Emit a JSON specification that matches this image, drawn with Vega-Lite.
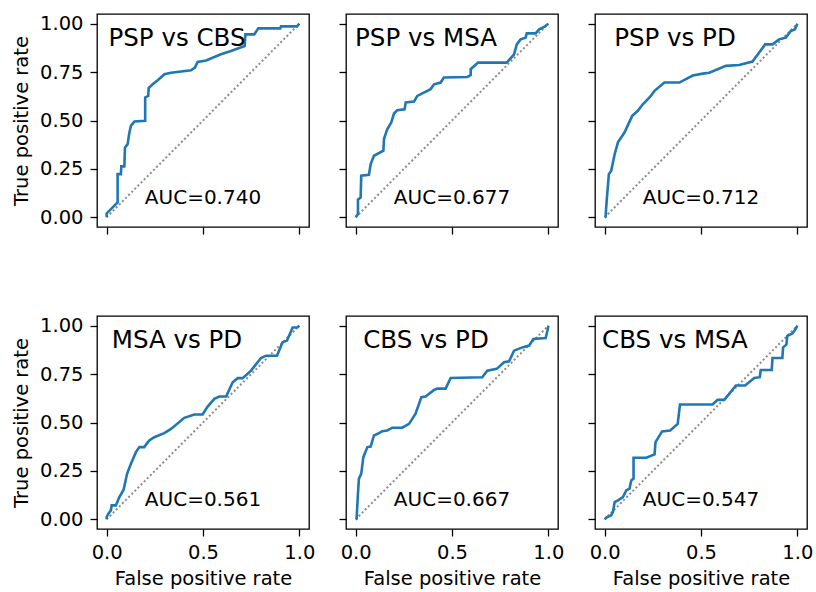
{
  "$schema": "https://vega.github.io/schema/vega-lite/v6.json",
  "background": "white",
  "padding": {"left": 10, "top": 13, "right": 4, "bottom": 4},
  "config": {
    "font": "DejaVu Sans",
    "view": {"stroke": "#000", "strokeWidth": 1.3},
    "axis": {"grid": false, "domain": false, "tickSize": 7, "tickColor": "#000", "tickWidth": 1.3, "labelFontSize": 19.5, "labelColor": "#000", "labelPadding": 7, "labelFlush": false, "labelOverlap": false, "titleFontSize": 19.5, "titleFontWeight": "normal", "titleColor": "#000", "titlePadding": 8}
  },
  "datasets": {
    "lab": [
      {"p": "PSP vs CBS", "auc": "AUC=0.740"},
      {"p": "PSP vs MSA", "auc": "AUC=0.677"},
      {"p": "PSP vs PD", "auc": "AUC=0.712"},
      {"p": "MSA vs PD", "auc": "AUC=0.561"},
      {"p": "CBS vs PD", "auc": "AUC=0.667"},
      {"p": "CBS vs MSA", "auc": "AUC=0.547"}
    ],
    "roc": [
      {"p":"PSP vs CBS","i":0,"fpr":0,"tpr":0},{"p":"PSP vs CBS","i":1,"fpr":0,"tpr":0.02},{"p":"PSP vs CBS","i":2,"fpr":0.057,"tpr":0.077},{"p":"PSP vs CBS","i":3,"fpr":0.057,"tpr":0.223},{"p":"PSP vs CBS","i":4,"fpr":0.074,"tpr":0.223},{"p":"PSP vs CBS","i":5,"fpr":0.076,"tpr":0.263},{"p":"PSP vs CBS","i":6,"fpr":0.092,"tpr":0.263},{"p":"PSP vs CBS","i":7,"fpr":0.095,"tpr":0.36},{"p":"PSP vs CBS","i":8,"fpr":0.109,"tpr":0.378},{"p":"PSP vs CBS","i":9,"fpr":0.118,"tpr":0.438},{"p":"PSP vs CBS","i":10,"fpr":0.126,"tpr":0.472},{"p":"PSP vs CBS","i":11,"fpr":0.144,"tpr":0.495},{"p":"PSP vs CBS","i":12,"fpr":0.2,"tpr":0.498},{"p":"PSP vs CBS","i":13,"fpr":0.2,"tpr":0.619},{"p":"PSP vs CBS","i":14,"fpr":0.216,"tpr":0.627},{"p":"PSP vs CBS","i":15,"fpr":0.218,"tpr":0.667},{"p":"PSP vs CBS","i":16,"fpr":0.239,"tpr":0.687},{"p":"PSP vs CBS","i":17,"fpr":0.265,"tpr":0.708},{"p":"PSP vs CBS","i":18,"fpr":0.3,"tpr":0.739},{"p":"PSP vs CBS","i":19,"fpr":0.334,"tpr":0.747},{"p":"PSP vs CBS","i":20,"fpr":0.438,"tpr":0.759},{"p":"PSP vs CBS","i":21,"fpr":0.458,"tpr":0.773},{"p":"PSP vs CBS","i":22,"fpr":0.472,"tpr":0.802},{"p":"PSP vs CBS","i":23,"fpr":0.516,"tpr":0.81},{"p":"PSP vs CBS","i":24,"fpr":0.593,"tpr":0.842},{"p":"PSP vs CBS","i":25,"fpr":0.645,"tpr":0.859},{"p":"PSP vs CBS","i":26,"fpr":0.716,"tpr":0.885},{"p":"PSP vs CBS","i":27,"fpr":0.72,"tpr":0.945},{"p":"PSP vs CBS","i":28,"fpr":0.766,"tpr":0.945},{"p":"PSP vs CBS","i":29,"fpr":0.787,"tpr":0.976},{"p":"PSP vs CBS","i":30,"fpr":0.901,"tpr":0.976},{"p":"PSP vs CBS","i":31,"fpr":0.905,"tpr":0.986},{"p":"PSP vs CBS","i":32,"fpr":0.988,"tpr":0.986},{"p":"PSP vs CBS","i":33,"fpr":1,"tpr":1},
      {"p":"PSP vs MSA","i":0,"fpr":0,"tpr":0},{"p":"PSP vs MSA","i":1,"fpr":0.012,"tpr":0.017},{"p":"PSP vs MSA","i":2,"fpr":0.012,"tpr":0.091},{"p":"PSP vs MSA","i":3,"fpr":0.026,"tpr":0.103},{"p":"PSP vs MSA","i":4,"fpr":0.029,"tpr":0.215},{"p":"PSP vs MSA","i":5,"fpr":0.069,"tpr":0.22},{"p":"PSP vs MSA","i":6,"fpr":0.078,"tpr":0.275},{"p":"PSP vs MSA","i":7,"fpr":0.095,"tpr":0.318},{"p":"PSP vs MSA","i":8,"fpr":0.144,"tpr":0.344},{"p":"PSP vs MSA","i":9,"fpr":0.147,"tpr":0.404},{"p":"PSP vs MSA","i":10,"fpr":0.164,"tpr":0.455},{"p":"PSP vs MSA","i":11,"fpr":0.185,"tpr":0.49},{"p":"PSP vs MSA","i":12,"fpr":0.199,"tpr":0.536},{"p":"PSP vs MSA","i":13,"fpr":0.216,"tpr":0.553},{"p":"PSP vs MSA","i":14,"fpr":0.254,"tpr":0.558},{"p":"PSP vs MSA","i":15,"fpr":0.26,"tpr":0.593},{"p":"PSP vs MSA","i":16,"fpr":0.303,"tpr":0.598},{"p":"PSP vs MSA","i":17,"fpr":0.32,"tpr":0.627},{"p":"PSP vs MSA","i":18,"fpr":0.389,"tpr":0.662},{"p":"PSP vs MSA","i":19,"fpr":0.407,"tpr":0.687},{"p":"PSP vs MSA","i":20,"fpr":0.441,"tpr":0.696},{"p":"PSP vs MSA","i":21,"fpr":0.458,"tpr":0.722},{"p":"PSP vs MSA","i":22,"fpr":0.58,"tpr":0.725},{"p":"PSP vs MSA","i":23,"fpr":0.597,"tpr":0.735},{"p":"PSP vs MSA","i":24,"fpr":0.597,"tpr":0.765},{"p":"PSP vs MSA","i":25,"fpr":0.635,"tpr":0.799},{"p":"PSP vs MSA","i":26,"fpr":0.784,"tpr":0.799},{"p":"PSP vs MSA","i":27,"fpr":0.822,"tpr":0.842},{"p":"PSP vs MSA","i":28,"fpr":0.836,"tpr":0.893},{"p":"PSP vs MSA","i":29,"fpr":0.856,"tpr":0.919},{"p":"PSP vs MSA","i":30,"fpr":0.882,"tpr":0.928},{"p":"PSP vs MSA","i":31,"fpr":0.888,"tpr":0.95},{"p":"PSP vs MSA","i":32,"fpr":0.934,"tpr":0.95},{"p":"PSP vs MSA","i":33,"fpr":0.952,"tpr":0.971},{"p":"PSP vs MSA","i":34,"fpr":0.978,"tpr":0.983},{"p":"PSP vs MSA","i":35,"fpr":1,"tpr":1},
      {"p":"PSP vs PD","i":0,"fpr":0,"tpr":0},{"p":"PSP vs PD","i":1,"fpr":0.005,"tpr":0.003},{"p":"PSP vs PD","i":2,"fpr":0.008,"tpr":0.05},{"p":"PSP vs PD","i":3,"fpr":0.012,"tpr":0.103},{"p":"PSP vs PD","i":4,"fpr":0.022,"tpr":0.223},{"p":"PSP vs PD","i":5,"fpr":0.034,"tpr":0.241},{"p":"PSP vs PD","i":6,"fpr":0.052,"tpr":0.326},{"p":"PSP vs PD","i":7,"fpr":0.069,"tpr":0.387},{"p":"PSP vs PD","i":8,"fpr":0.103,"tpr":0.438},{"p":"PSP vs PD","i":9,"fpr":0.143,"tpr":0.524},{"p":"PSP vs PD","i":10,"fpr":0.172,"tpr":0.55},{"p":"PSP vs PD","i":11,"fpr":0.198,"tpr":0.584},{"p":"PSP vs PD","i":12,"fpr":0.233,"tpr":0.619},{"p":"PSP vs PD","i":13,"fpr":0.259,"tpr":0.653},{"p":"PSP vs PD","i":14,"fpr":0.31,"tpr":0.696},{"p":"PSP vs PD","i":15,"fpr":0.388,"tpr":0.696},{"p":"PSP vs PD","i":16,"fpr":0.457,"tpr":0.732},{"p":"PSP vs PD","i":17,"fpr":0.509,"tpr":0.742},{"p":"PSP vs PD","i":18,"fpr":0.543,"tpr":0.747},{"p":"PSP vs PD","i":19,"fpr":0.629,"tpr":0.782},{"p":"PSP vs PD","i":20,"fpr":0.698,"tpr":0.787},{"p":"PSP vs PD","i":21,"fpr":0.767,"tpr":0.804},{"p":"PSP vs PD","i":22,"fpr":0.802,"tpr":0.851},{"p":"PSP vs PD","i":23,"fpr":0.833,"tpr":0.893},{"p":"PSP vs PD","i":24,"fpr":0.871,"tpr":0.893},{"p":"PSP vs PD","i":25,"fpr":0.905,"tpr":0.919},{"p":"PSP vs PD","i":26,"fpr":0.94,"tpr":0.928},{"p":"PSP vs PD","i":27,"fpr":0.966,"tpr":0.962},{"p":"PSP vs PD","i":28,"fpr":0.988,"tpr":0.971},{"p":"PSP vs PD","i":29,"fpr":1,"tpr":1},
      {"p":"MSA vs PD","i":0,"fpr":0,"tpr":0},{"p":"MSA vs PD","i":1,"fpr":0,"tpr":0.012},{"p":"MSA vs PD","i":2,"fpr":0.009,"tpr":0.029},{"p":"MSA vs PD","i":3,"fpr":0.022,"tpr":0.046},{"p":"MSA vs PD","i":4,"fpr":0.026,"tpr":0.072},{"p":"MSA vs PD","i":5,"fpr":0.048,"tpr":0.072},{"p":"MSA vs PD","i":6,"fpr":0.066,"tpr":0.115},{"p":"MSA vs PD","i":7,"fpr":0.088,"tpr":0.153},{"p":"MSA vs PD","i":8,"fpr":0.106,"tpr":0.235},{"p":"MSA vs PD","i":9,"fpr":0.126,"tpr":0.287},{"p":"MSA vs PD","i":10,"fpr":0.152,"tpr":0.347},{"p":"MSA vs PD","i":11,"fpr":0.17,"tpr":0.373},{"p":"MSA vs PD","i":12,"fpr":0.195,"tpr":0.373},{"p":"MSA vs PD","i":13,"fpr":0.221,"tpr":0.407},{"p":"MSA vs PD","i":14,"fpr":0.247,"tpr":0.424},{"p":"MSA vs PD","i":15,"fpr":0.299,"tpr":0.445},{"p":"MSA vs PD","i":16,"fpr":0.334,"tpr":0.467},{"p":"MSA vs PD","i":17,"fpr":0.403,"tpr":0.524},{"p":"MSA vs PD","i":18,"fpr":0.455,"tpr":0.541},{"p":"MSA vs PD","i":19,"fpr":0.498,"tpr":0.541},{"p":"MSA vs PD","i":20,"fpr":0.524,"tpr":0.582},{"p":"MSA vs PD","i":21,"fpr":0.559,"tpr":0.622},{"p":"MSA vs PD","i":22,"fpr":0.585,"tpr":0.634},{"p":"MSA vs PD","i":23,"fpr":0.62,"tpr":0.634},{"p":"MSA vs PD","i":24,"fpr":0.654,"tpr":0.708},{"p":"MSA vs PD","i":25,"fpr":0.68,"tpr":0.729},{"p":"MSA vs PD","i":26,"fpr":0.706,"tpr":0.729},{"p":"MSA vs PD","i":27,"fpr":0.749,"tpr":0.768},{"p":"MSA vs PD","i":28,"fpr":0.801,"tpr":0.833},{"p":"MSA vs PD","i":29,"fpr":0.827,"tpr":0.845},{"p":"MSA vs PD","i":30,"fpr":0.884,"tpr":0.845},{"p":"MSA vs PD","i":31,"fpr":0.913,"tpr":0.914},{"p":"MSA vs PD","i":32,"fpr":0.936,"tpr":0.923},{"p":"MSA vs PD","i":33,"fpr":0.965,"tpr":0.991},{"p":"MSA vs PD","i":34,"fpr":0.988,"tpr":0.991},{"p":"MSA vs PD","i":35,"fpr":1,"tpr":1},
      {"p":"CBS vs PD","i":0,"fpr":0,"tpr":0},{"p":"CBS vs PD","i":1,"fpr":0.005,"tpr":0.003},{"p":"CBS vs PD","i":2,"fpr":0.012,"tpr":0.132},{"p":"CBS vs PD","i":3,"fpr":0.017,"tpr":0.21},{"p":"CBS vs PD","i":4,"fpr":0.029,"tpr":0.235},{"p":"CBS vs PD","i":5,"fpr":0.04,"tpr":0.321},{"p":"CBS vs PD","i":6,"fpr":0.061,"tpr":0.373},{"p":"CBS vs PD","i":7,"fpr":0.078,"tpr":0.376},{"p":"CBS vs PD","i":8,"fpr":0.095,"tpr":0.433},{"p":"CBS vs PD","i":9,"fpr":0.121,"tpr":0.445},{"p":"CBS vs PD","i":10,"fpr":0.138,"tpr":0.455},{"p":"CBS vs PD","i":11,"fpr":0.164,"tpr":0.459},{"p":"CBS vs PD","i":12,"fpr":0.19,"tpr":0.473},{"p":"CBS vs PD","i":13,"fpr":0.242,"tpr":0.473},{"p":"CBS vs PD","i":14,"fpr":0.277,"tpr":0.493},{"p":"CBS vs PD","i":15,"fpr":0.311,"tpr":0.545},{"p":"CBS vs PD","i":16,"fpr":0.341,"tpr":0.631},{"p":"CBS vs PD","i":17,"fpr":0.363,"tpr":0.634},{"p":"CBS vs PD","i":18,"fpr":0.407,"tpr":0.668},{"p":"CBS vs PD","i":19,"fpr":0.424,"tpr":0.675},{"p":"CBS vs PD","i":20,"fpr":0.467,"tpr":0.675},{"p":"CBS vs PD","i":21,"fpr":0.493,"tpr":0.73},{"p":"CBS vs PD","i":22,"fpr":0.657,"tpr":0.734},{"p":"CBS vs PD","i":23,"fpr":0.683,"tpr":0.768},{"p":"CBS vs PD","i":24,"fpr":0.732,"tpr":0.777},{"p":"CBS vs PD","i":25,"fpr":0.77,"tpr":0.811},{"p":"CBS vs PD","i":26,"fpr":0.796,"tpr":0.816},{"p":"CBS vs PD","i":27,"fpr":0.822,"tpr":0.871},{"p":"CBS vs PD","i":28,"fpr":0.865,"tpr":0.888},{"p":"CBS vs PD","i":29,"fpr":0.9,"tpr":0.897},{"p":"CBS vs PD","i":30,"fpr":0.922,"tpr":0.931},{"p":"CBS vs PD","i":31,"fpr":0.986,"tpr":0.936},{"p":"CBS vs PD","i":32,"fpr":0.995,"tpr":0.974},{"p":"CBS vs PD","i":33,"fpr":1,"tpr":1},
      {"p":"CBS vs MSA","i":0,"fpr":0,"tpr":0},{"p":"CBS vs MSA","i":1,"fpr":0.009,"tpr":0.009},{"p":"CBS vs MSA","i":2,"fpr":0.034,"tpr":0.021},{"p":"CBS vs MSA","i":3,"fpr":0.043,"tpr":0.038},{"p":"CBS vs MSA","i":4,"fpr":0.052,"tpr":0.089},{"p":"CBS vs MSA","i":5,"fpr":0.069,"tpr":0.098},{"p":"CBS vs MSA","i":6,"fpr":0.095,"tpr":0.115},{"p":"CBS vs MSA","i":7,"fpr":0.112,"tpr":0.149},{"p":"CBS vs MSA","i":8,"fpr":0.129,"tpr":0.158},{"p":"CBS vs MSA","i":9,"fpr":0.138,"tpr":0.201},{"p":"CBS vs MSA","i":10,"fpr":0.15,"tpr":0.21},{"p":"CBS vs MSA","i":11,"fpr":0.15,"tpr":0.318},{"p":"CBS vs MSA","i":12,"fpr":0.216,"tpr":0.318},{"p":"CBS vs MSA","i":13,"fpr":0.259,"tpr":0.335},{"p":"CBS vs MSA","i":14,"fpr":0.264,"tpr":0.399},{"p":"CBS vs MSA","i":15,"fpr":0.298,"tpr":0.454},{"p":"CBS vs MSA","i":16,"fpr":0.34,"tpr":0.459},{"p":"CBS vs MSA","i":17,"fpr":0.379,"tpr":0.493},{"p":"CBS vs MSA","i":18,"fpr":0.391,"tpr":0.593},{"p":"CBS vs MSA","i":19,"fpr":0.56,"tpr":0.593},{"p":"CBS vs MSA","i":20,"fpr":0.586,"tpr":0.617},{"p":"CBS vs MSA","i":21,"fpr":0.621,"tpr":0.617},{"p":"CBS vs MSA","i":22,"fpr":0.681,"tpr":0.691},{"p":"CBS vs MSA","i":23,"fpr":0.729,"tpr":0.691},{"p":"CBS vs MSA","i":24,"fpr":0.776,"tpr":0.73},{"p":"CBS vs MSA","i":25,"fpr":0.805,"tpr":0.734},{"p":"CBS vs MSA","i":26,"fpr":0.81,"tpr":0.771},{"p":"CBS vs MSA","i":27,"fpr":0.867,"tpr":0.771},{"p":"CBS vs MSA","i":28,"fpr":0.871,"tpr":0.833},{"p":"CBS vs MSA","i":29,"fpr":0.922,"tpr":0.833},{"p":"CBS vs MSA","i":30,"fpr":0.926,"tpr":0.888},{"p":"CBS vs MSA","i":31,"fpr":0.943,"tpr":0.902},{"p":"CBS vs MSA","i":32,"fpr":0.948,"tpr":0.948},{"p":"CBS vs MSA","i":33,"fpr":0.974,"tpr":0.96},{"p":"CBS vs MSA","i":34,"fpr":0.991,"tpr":0.983},{"p":"CBS vs MSA","i":35,"fpr":1,"tpr":1}
    ]
  },
  "columns": 3,
  "bounds": "flush",
  "spacing": {"row": 89, "column": 37},
  "concat": [
    {
      "width": 212, "height": 213,
      "layer": [
        {"data": {"name": "lab"}, "transform": [{"filter": "datum.p == 'PSP vs CBS'"}], "mark": {"type": "rule", "color": "#8c8c8c", "strokeWidth": 2, "strokeDash": [2, 2.4]}, "encoding": {"x": {"datum": 0, "type": "quantitative", "scale": {"domain": [-0.05, 1.05], "nice": false}, "axis": {"values": [0, 0.5, 1], "labels": false, "title": null}}, "y": {"datum": 0, "type": "quantitative", "scale": {"domain": [-0.05, 1.05], "nice": false}, "axis": {"values": [0, 0.25, 0.5, 0.75, 1], "format": ".2f", "title": "True positive rate"}}, "x2": {"datum": 1}, "y2": {"datum": 1}}},
        {"data": {"name": "roc"}, "transform": [{"filter": "datum.p == 'PSP vs CBS'"}], "mark": {"type": "line", "color": "#1f77b4", "strokeWidth": 2.6}, "encoding": {"x": {"field": "fpr", "type": "quantitative"}, "y": {"field": "tpr", "type": "quantitative"}, "order": {"field": "i", "type": "quantitative"}}},
        {"data": {"name": "lab"}, "transform": [{"filter": "datum.p == 'PSP vs CBS'"}], "mark": {"type": "text", "fontSize": 24.5, "align": "center", "baseline": "middle", "color": "#000"}, "encoding": {"x": {"datum": 0.365}, "y": {"datum": 0.92}, "text": {"field": "p"}}},
        {"data": {"name": "lab"}, "transform": [{"filter": "datum.p == 'PSP vs CBS'"}], "mark": {"type": "text", "fontSize": 20, "align": "center", "baseline": "middle", "color": "#000"}, "encoding": {"x": {"datum": 0.5}, "y": {"datum": 0.1}, "text": {"field": "auc"}}}
      ]
    },
    {
      "width": 212, "height": 213,
      "layer": [
        {"data": {"name": "lab"}, "transform": [{"filter": "datum.p == 'PSP vs MSA'"}], "mark": {"type": "rule", "color": "#8c8c8c", "strokeWidth": 2, "strokeDash": [2, 2.4]}, "encoding": {"x": {"datum": 0, "type": "quantitative", "scale": {"domain": [-0.05, 1.05], "nice": false}, "axis": {"values": [0, 0.5, 1], "labels": false, "title": null}}, "y": {"datum": 0, "type": "quantitative", "scale": {"domain": [-0.05, 1.05], "nice": false}, "axis": {"values": [0, 0.25, 0.5, 0.75, 1], "labels": false, "title": null}}, "x2": {"datum": 1}, "y2": {"datum": 1}}},
        {"data": {"name": "roc"}, "transform": [{"filter": "datum.p == 'PSP vs MSA'"}], "mark": {"type": "line", "color": "#1f77b4", "strokeWidth": 2.6}, "encoding": {"x": {"field": "fpr", "type": "quantitative"}, "y": {"field": "tpr", "type": "quantitative"}, "order": {"field": "i", "type": "quantitative"}}},
        {"data": {"name": "lab"}, "transform": [{"filter": "datum.p == 'PSP vs MSA'"}], "mark": {"type": "text", "fontSize": 24.5, "align": "center", "baseline": "middle", "color": "#000"}, "encoding": {"x": {"datum": 0.365}, "y": {"datum": 0.92}, "text": {"field": "p"}}},
        {"data": {"name": "lab"}, "transform": [{"filter": "datum.p == 'PSP vs MSA'"}], "mark": {"type": "text", "fontSize": 20, "align": "center", "baseline": "middle", "color": "#000"}, "encoding": {"x": {"datum": 0.5}, "y": {"datum": 0.1}, "text": {"field": "auc"}}}
      ]
    },
    {
      "width": 212, "height": 213,
      "layer": [
        {"data": {"name": "lab"}, "transform": [{"filter": "datum.p == 'PSP vs PD'"}], "mark": {"type": "rule", "color": "#8c8c8c", "strokeWidth": 2, "strokeDash": [2, 2.4]}, "encoding": {"x": {"datum": 0, "type": "quantitative", "scale": {"domain": [-0.05, 1.05], "nice": false}, "axis": {"values": [0, 0.5, 1], "labels": false, "title": null}}, "y": {"datum": 0, "type": "quantitative", "scale": {"domain": [-0.05, 1.05], "nice": false}, "axis": {"values": [0, 0.25, 0.5, 0.75, 1], "labels": false, "title": null}}, "x2": {"datum": 1}, "y2": {"datum": 1}}},
        {"data": {"name": "roc"}, "transform": [{"filter": "datum.p == 'PSP vs PD'"}], "mark": {"type": "line", "color": "#1f77b4", "strokeWidth": 2.6}, "encoding": {"x": {"field": "fpr", "type": "quantitative"}, "y": {"field": "tpr", "type": "quantitative"}, "order": {"field": "i", "type": "quantitative"}}},
        {"data": {"name": "lab"}, "transform": [{"filter": "datum.p == 'PSP vs PD'"}], "mark": {"type": "text", "fontSize": 24.5, "align": "center", "baseline": "middle", "color": "#000"}, "encoding": {"x": {"datum": 0.365}, "y": {"datum": 0.92}, "text": {"field": "p"}}},
        {"data": {"name": "lab"}, "transform": [{"filter": "datum.p == 'PSP vs PD'"}], "mark": {"type": "text", "fontSize": 20, "align": "center", "baseline": "middle", "color": "#000"}, "encoding": {"x": {"datum": 0.5}, "y": {"datum": 0.1}, "text": {"field": "auc"}}}
      ]
    },
    {
      "width": 212, "height": 213,
      "layer": [
        {"data": {"name": "lab"}, "transform": [{"filter": "datum.p == 'MSA vs PD'"}], "mark": {"type": "rule", "color": "#8c8c8c", "strokeWidth": 2, "strokeDash": [2, 2.4]}, "encoding": {"x": {"datum": 0, "type": "quantitative", "scale": {"domain": [-0.05, 1.05], "nice": false}, "axis": {"values": [0, 0.5, 1], "format": ".1f", "title": "False positive rate"}}, "y": {"datum": 0, "type": "quantitative", "scale": {"domain": [-0.05, 1.05], "nice": false}, "axis": {"values": [0, 0.25, 0.5, 0.75, 1], "format": ".2f", "title": "True positive rate"}}, "x2": {"datum": 1}, "y2": {"datum": 1}}},
        {"data": {"name": "roc"}, "transform": [{"filter": "datum.p == 'MSA vs PD'"}], "mark": {"type": "line", "color": "#1f77b4", "strokeWidth": 2.6}, "encoding": {"x": {"field": "fpr", "type": "quantitative"}, "y": {"field": "tpr", "type": "quantitative"}, "order": {"field": "i", "type": "quantitative"}}},
        {"data": {"name": "lab"}, "transform": [{"filter": "datum.p == 'MSA vs PD'"}], "mark": {"type": "text", "fontSize": 24.5, "align": "center", "baseline": "middle", "color": "#000"}, "encoding": {"x": {"datum": 0.365}, "y": {"datum": 0.92}, "text": {"field": "p"}}},
        {"data": {"name": "lab"}, "transform": [{"filter": "datum.p == 'MSA vs PD'"}], "mark": {"type": "text", "fontSize": 20, "align": "center", "baseline": "middle", "color": "#000"}, "encoding": {"x": {"datum": 0.5}, "y": {"datum": 0.1}, "text": {"field": "auc"}}}
      ]
    },
    {
      "width": 212, "height": 213,
      "layer": [
        {"data": {"name": "lab"}, "transform": [{"filter": "datum.p == 'CBS vs PD'"}], "mark": {"type": "rule", "color": "#8c8c8c", "strokeWidth": 2, "strokeDash": [2, 2.4]}, "encoding": {"x": {"datum": 0, "type": "quantitative", "scale": {"domain": [-0.05, 1.05], "nice": false}, "axis": {"values": [0, 0.5, 1], "format": ".1f", "title": "False positive rate"}}, "y": {"datum": 0, "type": "quantitative", "scale": {"domain": [-0.05, 1.05], "nice": false}, "axis": {"values": [0, 0.25, 0.5, 0.75, 1], "labels": false, "title": null}}, "x2": {"datum": 1}, "y2": {"datum": 1}}},
        {"data": {"name": "roc"}, "transform": [{"filter": "datum.p == 'CBS vs PD'"}], "mark": {"type": "line", "color": "#1f77b4", "strokeWidth": 2.6}, "encoding": {"x": {"field": "fpr", "type": "quantitative"}, "y": {"field": "tpr", "type": "quantitative"}, "order": {"field": "i", "type": "quantitative"}}},
        {"data": {"name": "lab"}, "transform": [{"filter": "datum.p == 'CBS vs PD'"}], "mark": {"type": "text", "fontSize": 24.5, "align": "center", "baseline": "middle", "color": "#000"}, "encoding": {"x": {"datum": 0.365}, "y": {"datum": 0.92}, "text": {"field": "p"}}},
        {"data": {"name": "lab"}, "transform": [{"filter": "datum.p == 'CBS vs PD'"}], "mark": {"type": "text", "fontSize": 20, "align": "center", "baseline": "middle", "color": "#000"}, "encoding": {"x": {"datum": 0.5}, "y": {"datum": 0.1}, "text": {"field": "auc"}}}
      ]
    },
    {
      "width": 212, "height": 213,
      "layer": [
        {"data": {"name": "lab"}, "transform": [{"filter": "datum.p == 'CBS vs MSA'"}], "mark": {"type": "rule", "color": "#8c8c8c", "strokeWidth": 2, "strokeDash": [2, 2.4]}, "encoding": {"x": {"datum": 0, "type": "quantitative", "scale": {"domain": [-0.05, 1.05], "nice": false}, "axis": {"values": [0, 0.5, 1], "format": ".1f", "title": "False positive rate"}}, "y": {"datum": 0, "type": "quantitative", "scale": {"domain": [-0.05, 1.05], "nice": false}, "axis": {"values": [0, 0.25, 0.5, 0.75, 1], "labels": false, "title": null}}, "x2": {"datum": 1}, "y2": {"datum": 1}}},
        {"data": {"name": "roc"}, "transform": [{"filter": "datum.p == 'CBS vs MSA'"}], "mark": {"type": "line", "color": "#1f77b4", "strokeWidth": 2.6}, "encoding": {"x": {"field": "fpr", "type": "quantitative"}, "y": {"field": "tpr", "type": "quantitative"}, "order": {"field": "i", "type": "quantitative"}}},
        {"data": {"name": "lab"}, "transform": [{"filter": "datum.p == 'CBS vs MSA'"}], "mark": {"type": "text", "fontSize": 24.5, "align": "center", "baseline": "middle", "color": "#000"}, "encoding": {"x": {"datum": 0.365}, "y": {"datum": 0.92}, "text": {"field": "p"}}},
        {"data": {"name": "lab"}, "transform": [{"filter": "datum.p == 'CBS vs MSA'"}], "mark": {"type": "text", "fontSize": 20, "align": "center", "baseline": "middle", "color": "#000"}, "encoding": {"x": {"datum": 0.5}, "y": {"datum": 0.1}, "text": {"field": "auc"}}}
      ]
    }
  ]
}
